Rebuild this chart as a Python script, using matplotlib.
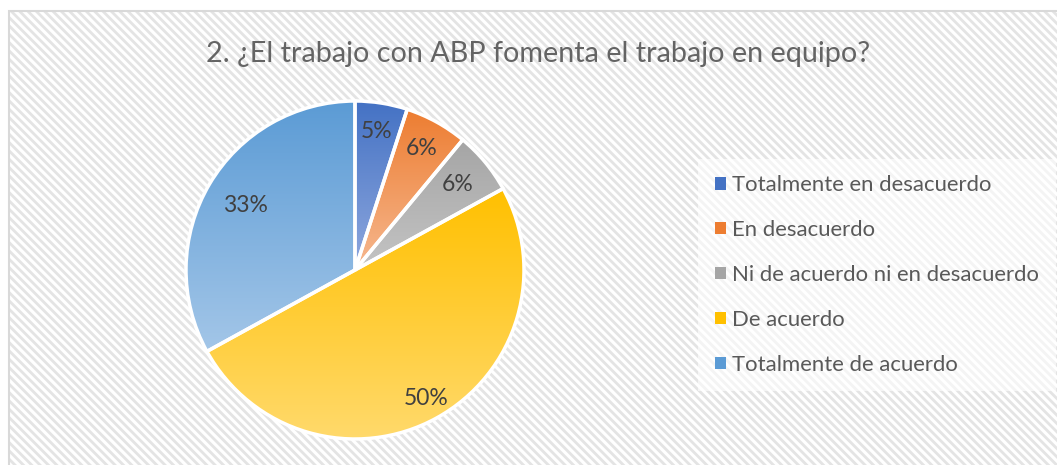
import numpy as np
import matplotlib.pyplot as plt
from matplotlib.patches import Rectangle, Patch
from matplotlib.colors import to_rgb

plt.rcParams['font.family'] = ['Lato', 'DejaVu Sans']
plt.rcParams['hatch.linewidth'] = 2.0

title = "2. ¿El trabajo con ABP fomenta el trabajo en equipo?"
labels = ["Totalmente en desacuerdo", "En desacuerdo",
          "Ni de acuerdo ni en desacuerdo", "De acuerdo",
          "Totalmente de acuerdo"]
values = [5, 6, 6, 50, 33]

# top / bottom colours of each wedge gradient
top_colors = ["#4472C4", "#ED7D31", "#A5A5A5", "#FFC000", "#5B9BD5"]
bottom_colors = ["#8FA8DE", "#F6B890", "#C4C4C4", "#FFDA6E", "#A3C6E8"]
# how far out (fraction of radius) each percentage sits
label_dist = [0.83, 0.82, 0.79, 0.87, 0.75]

W, H = 1057, 465


def main():
    fig = plt.figure(figsize=(W / 100, H / 100), dpi=100)
    ax = fig.add_axes([0, 0, 1, 1])

    # hatched chart area with light border
    ax.add_patch(Rectangle((9, -20), W + 20, H - 11 + 20, facecolor="white",
                           edgecolor="#e4e4e4", linewidth=0,
                           hatch="\\\\\\\\", zorder=-3))
    ax.add_patch(Rectangle((9, -20), W + 20, H - 11 + 20, facecolor="none",
                           edgecolor="#d9d9d9", linewidth=1.5, zorder=-2))

    ax.text(538, H - 54, title, ha="center", va="center", fontsize=20.7,
            color="#646464")

    cx, cy, r = 355, H - 270, 169
    wedges, _, autotexts = ax.pie(
        values, startangle=90, counterclock=False, center=(cx, cy),
        radius=r, autopct="%1.0f%%", pctdistance=0.82,
        colors=top_colors,
        wedgeprops=dict(edgecolor="white", linewidth=2.5),
        textprops=dict(color="#404040", fontsize=16.5),
    )
    for w, t, d in zip(wedges, autotexts, label_dist):
        ang = np.deg2rad((w.theta1 + w.theta2) / 2)
        t.set_position((cx + d * r * np.cos(ang), cy + d * r * np.sin(ang)))
        t.set_zorder(5)

    # vertical gradient inside each wedge
    for w, c0, c1 in zip(wedges, top_colors, bottom_colors):
        verts = w.get_patch_transform().transform(w.get_path().vertices)
        x0, y0 = verts.min(axis=0)
        x1, y1 = verts.max(axis=0)
        a, b = np.array(to_rgb(c0)), np.array(to_rgb(c1))
        t = np.linspace(0, 1, 256)[:, None, None]
        grad = a * (1 - t) + b * t
        im = ax.imshow(grad, extent=[x0, x1, y0, y1], origin="upper",
                       aspect="auto", zorder=0.5, interpolation="bilinear")
        im.set_clip_path(w)
        w.set_facecolor("none")

    handles = [Patch(facecolor=c) for c in top_colors]
    leg = ax.legend(handles, labels, loc="center left",
                    bbox_to_anchor=(698 / W, (H - 275) / H),
                    borderaxespad=0, fontsize=15.9, labelcolor="#595959",
                    handlelength=0.5, handleheight=0.5, handletextpad=0.3,
                    labelspacing=1.13, borderpad=0.75, frameon=True,
                    fancybox=False, facecolor="white", framealpha=0.6,
                    edgecolor="none")
    leg.set_zorder(6)

    ax.set_xlim(0, W)
    ax.set_ylim(0, H)
    ax.set_aspect("auto")
    ax.axis("off")
    fig.savefig("out.png", dpi=100, facecolor="white")


if __name__ == "__main__":
    main()
